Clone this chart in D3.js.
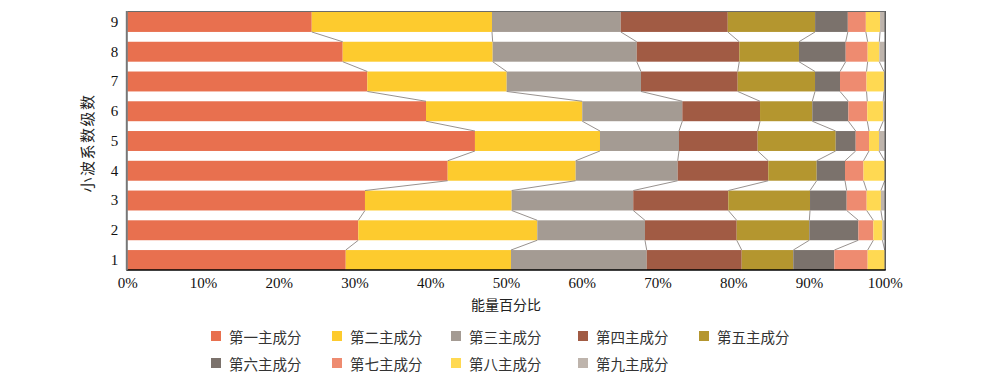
<!DOCTYPE html>
<html><head><meta charset="utf-8">
<script src="https://cdn.jsdelivr.net/npm/d3@7/dist/d3.min.js"></script>
<style>body{margin:0;background:#fff}svg{display:block}</style>
</head><body><svg id="c" width="1000" height="382"></svg>
<script>
const levels = ["1","2","3","4","5","6","7","8","9"];
const seriesNames = ["第一主成分","第二主成分","第三主成分","第四主成分","第五主成分","第六主成分","第七主成分","第八主成分","第九主成分"];
const colors = ["#E8704F","#FDCB2E","#A49B93","#A15B44","#B4962F","#7B726C","#EE8B70","#FFD952","#BEB4AC"];
// values per level (rows), each array lists the 9 components in percent
const level1 = [28.84,21.82,17.92,12.54,6.81,5.42,4.40,2.25,0.0];
const level2 = [30.50,23.63,14.22,12.11,9.59,6.47,1.98,1.20,0.30];
const level3 = [31.38,19.37,16.05,12.55,10.79,4.84,2.64,1.88,0.50];
const level4 = [42.30,16.90,13.47,11.96,6.39,3.74,2.44,2.80,0.0];
const level5 = [45.90,16.51,10.43,10.39,10.30,2.64,1.76,1.32,0.75];
const level6 = [39.44,20.63,13.21,10.26,6.90,4.76,2.50,2.10,0.20];
const level7 = [31.69,18.40,17.73,12.77,10.21,3.30,3.50,2.30,0.10];
const level8 = [28.44,19.80,19.02,13.54,7.88,6.17,2.90,1.54,0.71];
const level9 = [24.35,23.80,17.00,14.13,11.53,4.32,2.38,1.88,0.62];
const xTicks = [0,10,20,30,40,50,60,70,80,90,100];

const rows = [level1,level2,level3,level4,level5,level6,level7,level8,level9];
const data = levels.map((l,i)=>{const o={level:l}; seriesNames.forEach((s,j)=>o[s]=rows[i][j]); return o;});
const stacked = d3.stack().keys(seriesNames)(data);

const svg = d3.select("#c");
const L=127.3, R=884.7, T=12, B=270;
const x = d3.scaleLinear().domain([0,100]).range([L,R]);
const y = d3.scaleBand().domain(levels.slice().reverse()).range([T,B]).paddingInner(0.33).paddingOuter(0);
const serif = "'Liberation Serif','Times New Roman',serif";
const cjk = "'Noto Sans CJK SC',sans-serif";

// bars
const g = svg.append("g");
stacked.forEach((s,i)=>{
  g.selectAll(null).data(s).enter().append("rect")
    .attr("x",d=>x(d[0])).attr("width",d=>Math.max(0,x(d[1])-x(d[0])))
    .attr("y",d=>y(d.data.level)).attr("height",y.bandwidth())
    .attr("fill",colors[i]);
});
// series lines
const lg = svg.append("g").attr("stroke","#8c8682").attr("stroke-width",0.9).attr("fill","none");
for(let i=0;i<seriesNames.length-1;i++){
  const s = stacked[i];
  for(let r=0;r<s.length-1;r++){
    const lower = s[r], upper = s[r+1];
    lg.append("line")
      .attr("x1",x(upper[1])).attr("y1",y(upper.data.level)+y.bandwidth())
      .attr("x2",x(lower[1])).attr("y2",y(lower.data.level));
  }
}
// frame
svg.append("line").attr("x1",L).attr("x2",R).attr("y1",T-0.5).attr("y2",T-0.5).attr("stroke","#6b6b6b").attr("stroke-width",1.2);
svg.append("line").attr("x1",R+0.5).attr("x2",R+0.5).attr("y1",T-1).attr("y2",B).attr("stroke","#333").attr("stroke-width",1.2);
// axes
const xa = svg.append("g").attr("transform",`translate(0,${B})`)
  .call(d3.axisBottom(x).tickValues(xTicks).tickFormat(d=>d+"%").tickSize(0).tickPadding(7));
xa.select(".domain").attr("stroke","#000").attr("stroke-width",1.5).attr("d",`M${L-1},0H${R+1}`);
xa.selectAll("text").attr("font-family",serif).attr("font-size",15).attr("fill","#111");
const ya = svg.append("g").attr("transform",`translate(${L},0)`)
  .call(d3.axisLeft(y).tickSize(0).tickPadding(9));
ya.select(".domain").attr("stroke","#777").attr("stroke-width",2).attr("d",`M-0.5,${T-1}V${B}`);
ya.selectAll("text").attr("font-family",serif).attr("font-size",15).attr("fill","#111");
// titles
svg.append("text").attr("x",(L+R)/2).attr("y",310).attr("text-anchor","middle")
  .attr("font-family",cjk).attr("font-size",14).attr("fill","#222").text("能量百分比");
svg.append("text").attr("transform",`translate(93,143) rotate(-90)`).attr("text-anchor","middle")
  .attr("font-family",cjk).attr("font-size",15).attr("letter-spacing",1.5).attr("fill","#222").text("小波系数级数");
// legend
const colX = [211,332,451,578,699];
const rowY = [336,363];
seriesNames.forEach((s,i)=>{
  const cx = colX[i%5], cy = rowY[Math.floor(i/5)];
  svg.append("rect").attr("x",cx).attr("y",cy-5).attr("width",10).attr("height",10).attr("fill",colors[i]);
  svg.append("text").attr("x",cx+18).attr("y",cy).attr("dominant-baseline","central")
    .attr("font-family",cjk).attr("font-size",14.5).attr("fill","#333").text(s);
});
</script></body></html>
